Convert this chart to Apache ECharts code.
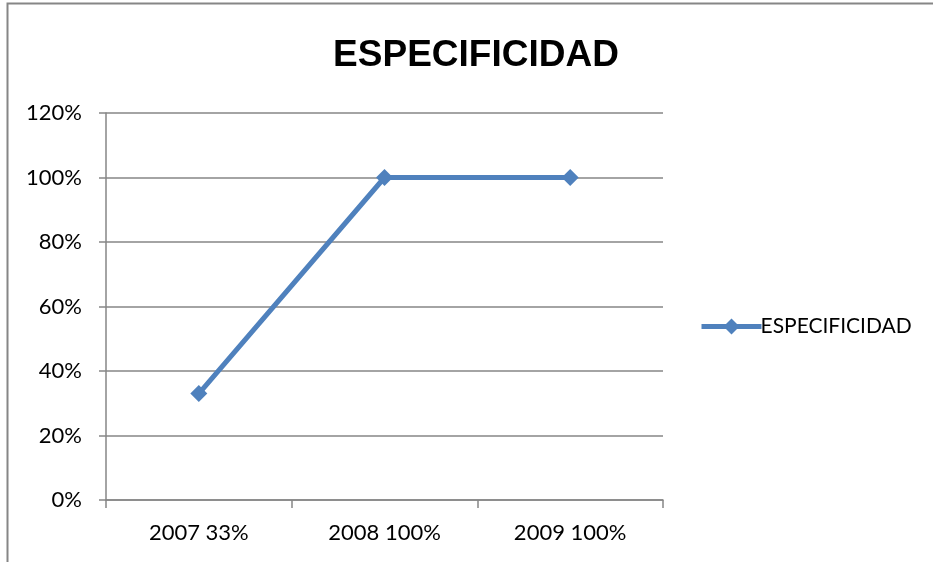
<!DOCTYPE html>
<html>
<head>
<meta charset="utf-8">
<script src="https://cdn.jsdelivr.net/npm/echarts@6/dist/echarts.min.js"></script>
<style>
html, body { margin: 0; padding: 0; background: #fff; }
#chart { width: 933px; height: 562px; }
</style>
</head>
<body>
<div id="chart"></div>
<script>
var categories = ['2007 33%', '2008 100%', '2009 100%'];
var values = [33, 100, 100];
var seriesName = 'ESPECIFICIDAD';
var titleText = 'ESPECIFICIDAD';

var chart = echarts.init(document.getElementById('chart'));
var gray = '#868686';
var blue = '#4F81BD';
var font = 'Lato';

chart.setOption({
    animation: false,
    // marco del gráfico (solo borde izquierdo y superior visibles)
    graphic: [{
        type: 'rect',
        shape: { x: 7.5, y: 3.5, width: 1200, height: 1200 },
        style: { fill: 'none', stroke: gray, lineWidth: 2 },
        silent: true
    }],
    title: {
        text: titleText,
        left: 471,
        textAlign: 'center',
        top: 32,
        textStyle: { fontFamily: 'Liberation Sans', fontSize: 37, fontWeight: 'bold', color: '#000' }
    },
    legend: {
        data: [seriesName],
        left: 694,
        top: 311,
        itemWidth: 60,
        itemHeight: 20,
        itemGap: 4,
        lineStyle: { width: 5 },
        textStyle: { fontFamily: font, fontSize: 21, color: '#000', padding: [0, 0, 0, -6] }
    },
    grid: { left: 106, right: 270, top: 113, bottom: 62, containLabel: false },
    xAxis: {
        type: 'category',
        data: categories,
        boundaryGap: true,
        axisLine: { lineStyle: { color: gray, width: 1.5 } },
        axisTick: { show: true, length: 8, lineStyle: { color: gray, width: 1.5 } },
        axisLabel: { fontFamily: font, fontSize: 22, color: '#000', margin: 22 }
    },
    yAxis: {
        type: 'value',
        min: 0,
        max: 120,
        interval: 20,
        axisLine: { show: true, lineStyle: { color: gray, width: 1.5 } },
        axisTick: { show: true, length: 7, lineStyle: { color: gray, width: 1.5 } },
        axisLabel: { fontFamily: font, fontSize: 22, color: '#000', margin: 24, formatter: '{value}%' },
        splitLine: { lineStyle: { color: gray, width: 1.5 } }
    },
    series: [{
        name: seriesName,
        type: 'line',
        data: values,
        symbol: 'diamond',
        symbolSize: 17,
        itemStyle: { color: blue },
        lineStyle: { color: blue, width: 5 }
    }]
});
</script>
</body>
</html>
